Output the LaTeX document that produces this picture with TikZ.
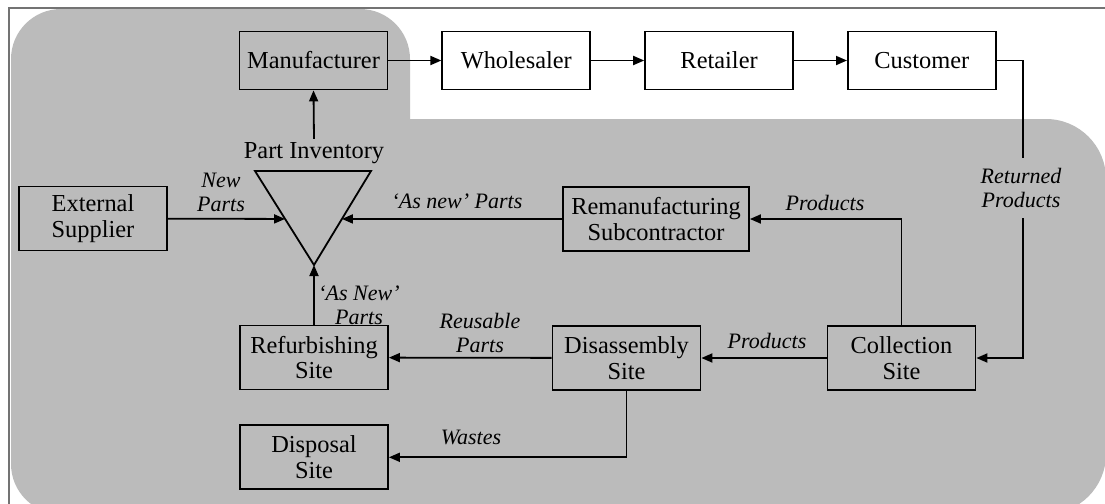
\documentclass[tikz,border=0pt]{standalone}
\usepackage{fontspec}
\setmainfont{Liberation Serif}
\usetikzlibrary{positioning,arrows.meta,calc}
\definecolor{bggray}{RGB}{187,187,187}
\definecolor{framegray}{RGB}{115,115,115}

\begin{document}
\begin{tikzpicture}[x=0.5pt,y=-0.5pt, >={Triangle[length=5.5pt,width=4.5pt]},
  font=\fontsize{12.2}{12.8}\selectfont,
  box/.style={draw,line width=0.9pt,minimum width=74pt,minimum height=29pt,inner sep=2pt,align=center},
  gbox/.style={box,fill=bggray},
  wbox/.style={box,fill=white},
  tall/.style={minimum height=32pt},
  lbl/.style={font=\fontsize{11}{12}\selectfont\itshape,align=center,inner sep=1pt},
  flow/.style={->,line width=0.9pt}]
  \clip (0,0) rectangle (1105,504);
  % shaded region and frame
  \fill[bggray,rounded corners=25pt] (11,9) rectangle (410,514);
  \fill[bggray,rounded corners=30pt] (11,119) rectangle (1106,514);
  \draw[framegray,line width=1pt] (9,8) rectangle (1125,530);
  % forward chain
  \node[gbox] (mfr) at (313.5,60.5) {Manufacturer};
  \node[wbox,right=26.5pt of mfr] (whl) {Wholesaler};
  \node[wbox,right=26.5pt of whl] (ret) {Retailer};
  \node[wbox,right=26.5pt of ret] (cust) {Customer};
  \draw[flow] (mfr) -- (whl); \draw[flow] (whl) -- (ret); \draw[flow] (ret) -- (cust);
  % part inventory
  \node[inner sep=1.5pt] (inv) at (314,153) {Part Inventory};
  \coordinate (tl) at (255,171); \coordinate (tr) at (371,171); \coordinate (ap) at (314,265);
  \draw[line width=0.9pt] (tl) -- (tr) -- (ap) -- cycle;
  \coordinate (nl) at ($(tl)!0.51!(ap)$);
  \coordinate (nr) at ($(tr)!0.51!(ap)$);
  \draw[flow] (inv.north) -- (mfr.south);
  % reverse chain
  \node[gbox,tall] (ext) at (93,218.5) {External\\Supplier};
  \node[gbox,tall,minimum width=93pt] (rem) at (656,219) {Remanufacturing\\Subcontractor};
  \node[gbox,tall] (ref) at (314,357.5) {Refurbishing\\Site};
  \node[gbox,tall] (dis) at (626.5,358) {Disassembly\\Site};
  \node[gbox,tall] (col) at (901.5,358) {Collection\\Site};
  \node[gbox,tall,below=17pt of ref] (disp) {Disposal\\Site};
  \coordinate (rt) at (1023,60.5);
  \draw[flow] (cust.east) -- (rt) |- (col.east);
  \node[lbl,fill=bggray,inner ysep=5pt] (retp) at (1021,188) {Returned\\Products};
  \draw[flow] (ext) -- (nl);
  \draw[flow] (rem) -- (nr);
  \draw[flow] (ref) -- (ap);
  \draw[flow] (col.north) |- (rem.east);
  \draw[flow] (col) -- (dis);
  \draw[flow] (dis) -- (ref);
  \draw[flow] (dis.south) |- (disp.east);
  % flow labels
  \node[lbl] (newp) at (221,192) {New\\Parts};
  \node[lbl] (asn1) at (457,201) {`As new' Parts};
  \node[lbl] (asn2) at (359,305) {`As New'\\Parts};
  \node[lbl] (prd1) at (825,203) {Products};
  \node[lbl] (reus) at (480,333) {Reusable\\Parts};
  \node[lbl] (prd2) at (767,341) {Products};
  \node[lbl] (wst) at (471,437) {Wastes};
\end{tikzpicture}
\end{document}
